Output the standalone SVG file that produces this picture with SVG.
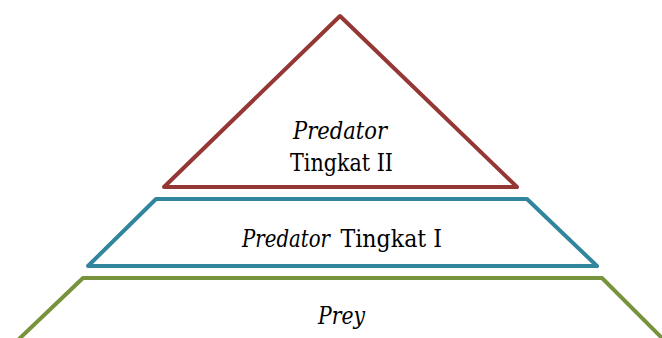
<svg xmlns="http://www.w3.org/2000/svg" width="662" height="338" viewBox="0 0 662 338">
<style>
.lvl{fill:#ffffff;stroke-width:4;stroke-linejoin:round;stroke-linecap:round}
.t{font-family:'DejaVu Serif',serif;font-size:24px;fill:#000000;text-anchor:middle}
.s{text-anchor:start}
.i{font-style:italic}
</style>
<rect width="662" height="338" fill="#ffffff"/>
<g id="prey">
<polyline class="lvl" points="18,340 83,278 602,278 664,340" stroke="#77933C" fill="none"/>
<text class="t i" x="341.5" y="324" textLength="47" lengthAdjust="spacingAndGlyphs">Prey</text>
</g>
<g id="predator1">
<polygon class="lvl" points="156,199 527,199 597,266 88,266" stroke="#31859C"/>
<text class="t s i" x="242" y="247" textLength="88" lengthAdjust="spacingAndGlyphs">Predator</text>
<text class="t s" x="340.5" y="247" textLength="101.5" lengthAdjust="spacingAndGlyphs">Tingkat I</text>
</g>
<g id="predator2">
<polygon class="lvl" points="340,16 517,187 164,187" stroke="#953735"/>
<text class="t i" x="340" y="139" textLength="94" lengthAdjust="spacingAndGlyphs">Predator</text>
<text class="t" x="341.5" y="171" textLength="103" lengthAdjust="spacingAndGlyphs">Tingkat II</text>
</g>
<g id="connectors"></g>
</svg>
